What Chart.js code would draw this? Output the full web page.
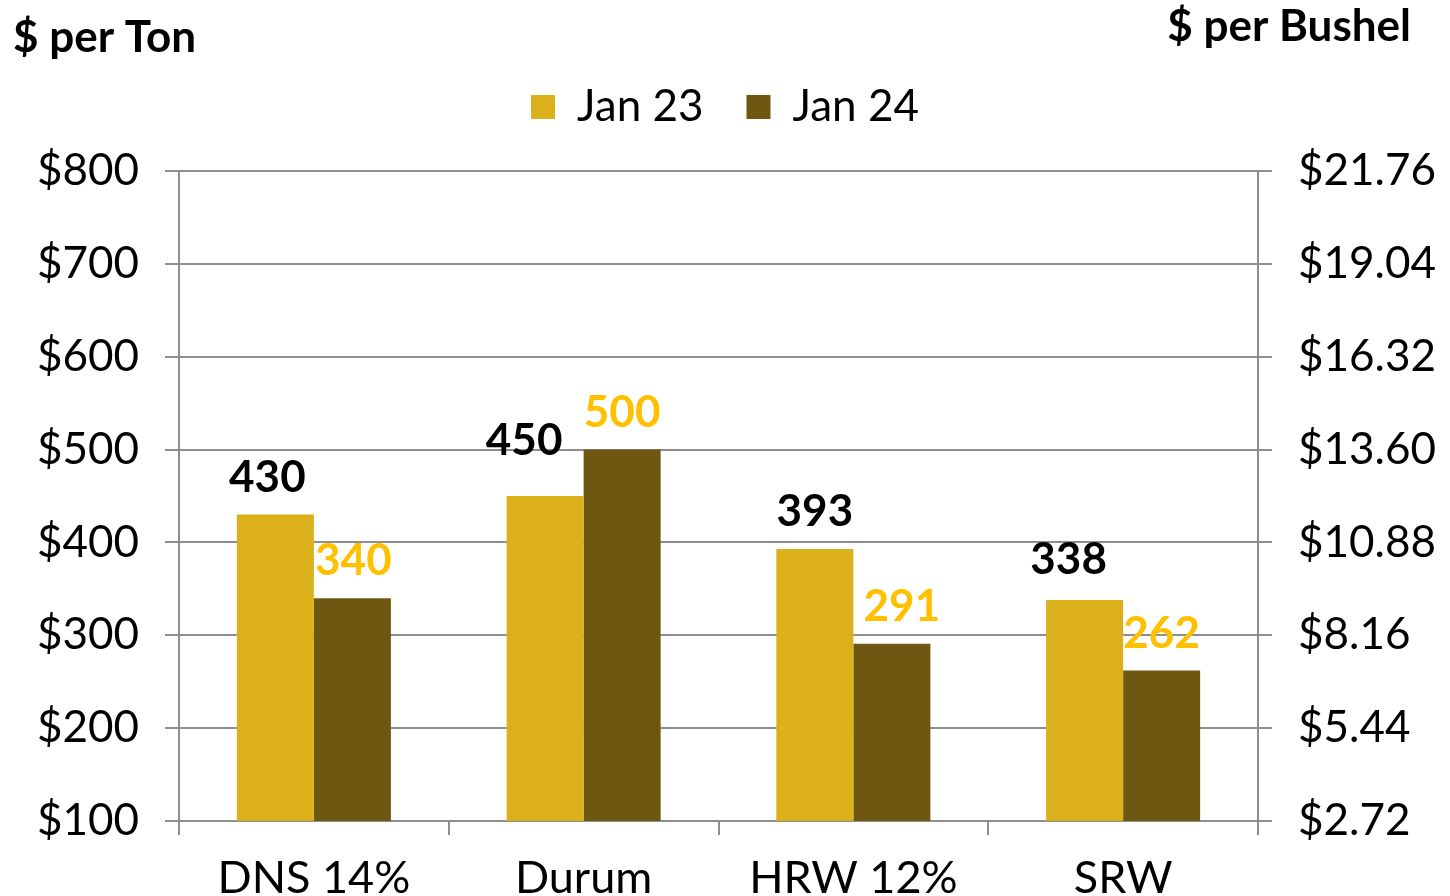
<!DOCTYPE html>
<html lang="en">
  <head>
    <meta charset="utf-8" />
    <title>Wheat prices</title>
    <style>
      * {
        margin: 0;
        padding: 0;
      }
      body {
        background: #fff;
      }
    </style>
  </head>
  <body>
    <canvas id="myChart" width="1450" height="896"></canvas>
    <script src="https://cdn.jsdelivr.net/npm/chart.js"></script>
    <script>
      // data
      const categories = ["DNS 14%", "Durum", "HRW 12%", "SRW"];
      const jan23 = [430, 450, 393, 338];
      const jan24 = [340, 500, 291, 262];
      const tonTicks = [100, 200, 300, 400, 500, 600, 700, 800];
      const bushelTicks = [2.72, 5.44, 8.16, 10.88, 13.6, 16.32, 19.04, 21.76];

      const FONT = "Lato, 'Open Sans', sans-serif";
      const GRID = "#8e8e8e";

      // value labels above bars, with small nudges like the original
      const valueLabels = {
        id: "valueLabels",
        afterDatasetsDraw(chart) {
          const { ctx } = chart;
          const nudge = [
            { dx: [-8, -21, 0, -16], dy: [0, -18, 0, -3] },
            { dx: [1, 0, 10, 0], dy: [0, 0, 0, 0] },
          ];
          const colors = ["#000000", "#FFC000"];
          ctx.save();
          ctx.font = "bold 44px " + FONT;
          ctx.textAlign = "center";
          ctx.textBaseline = "alphabetic";
          chart.data.datasets.forEach((ds, di) => {
            const meta = chart.getDatasetMeta(di);
            meta.data.forEach((bar, i) => {
              ctx.fillStyle = colors[di];
              ctx.fillText(
                ds.data[i],
                bar.x + nudge[di].dx[i],
                bar.y - 23 + nudge[di].dy[i]
              );
            });
          });
          ctx.restore();
        },
      };

      // axis titles at the top corners
      const axisTitles = {
        id: "axisTitles",
        afterDraw(chart) {
          const { ctx } = chart;
          ctx.save();
          ctx.font = "bold 44px " + FONT;
          ctx.fillStyle = "#000";
          ctx.textBaseline = "alphabetic";
          ctx.textAlign = "left";
          ctx.fillText("$ per Ton", 13, 52);
          ctx.textAlign = "right";
          ctx.fillText("$ per Bushel", 1411, 41);
          ctx.restore();
        },
      };

      const data = {
        labels: categories,
        datasets: [
          {
            label: "Jan 23",
            data: jan23,
            backgroundColor: "#DCB01A",
            yAxisID: "y",
          },
          {
            label: "Jan 24",
            data: jan24,
            backgroundColor: "#6E5710",
            yAxisID: "y",
          },
        ],
      };

      const config = {
        type: "bar",
        data,
        options: {
          responsive: false,
          animation: false,
          layout: { padding: { top: 42, left: 0, right: 0, bottom: 0 } },
          datasets: {
            bar: { categoryPercentage: 0.571, barPercentage: 1.0 },
          },
          plugins: {
            tooltip: { enabled: false },
            legend: {
              position: "top",
              labels: {
                color: "#000",
                font: { family: FONT, size: 44 },
                boxWidth: 24,
                boxHeight: 24,
                padding: 43,
              },
            },
            // empty block under the legend, just for spacing
            subtitle: {
              display: true,
              text: "",
              position: "top",
              weight: 500,
              font: { size: 10, lineHeight: 1 },
              padding: { top: 0, bottom: 22 },
            },
          },
          scales: {
            x: {
              grid: {
                display: true,
                drawOnChartArea: false,
                color: GRID,
                lineWidth: 2,
                tickLength: 14,
              },
              border: { color: GRID, width: 2 },
              ticks: {
                color: "#000",
                font: { family: FONT, size: 45 },
                padding: 16,
              },
              afterFit(scale) {
                scale.height = 75;
              },
            },
            y: {
              position: "left",
              min: 100,
              max: 800,
              afterBuildTicks(scale) {
                scale.ticks = tonTicks.map((v) => ({ value: v }));
              },
              grid: { color: GRID, lineWidth: 2, tickLength: 14 },
              border: { color: GRID, width: 2 },
              ticks: {
                color: "#000",
                font: { family: FONT, size: 44 },
                padding: 26,
                callback: (v) => "$" + v,
              },
              afterFit(scale) {
                scale.width = 179;
              },
            },
            bushel: {
              position: "right",
              min: bushelTicks[0],
              max: bushelTicks[bushelTicks.length - 1],
              afterBuildTicks(scale) {
                scale.ticks = bushelTicks.map((v) => ({ value: v }));
              },
              grid: {
                color: GRID,
                lineWidth: 2,
                tickLength: 14,
                drawOnChartArea: false,
              },
              border: { color: GRID, width: 2 },
              ticks: {
                color: "#000",
                font: { family: FONT, size: 44 },
                padding: 26,
                callback: (v) => "$" + Number(v).toFixed(2),
              },
              afterFit(scale) {
                scale.width = 192;
              },
            },
          },
        },
        plugins: [valueLabels, axisTitles],
      };

      const myChart = new Chart(document.getElementById("myChart"), config);
    </script>
  </body>
</html>
